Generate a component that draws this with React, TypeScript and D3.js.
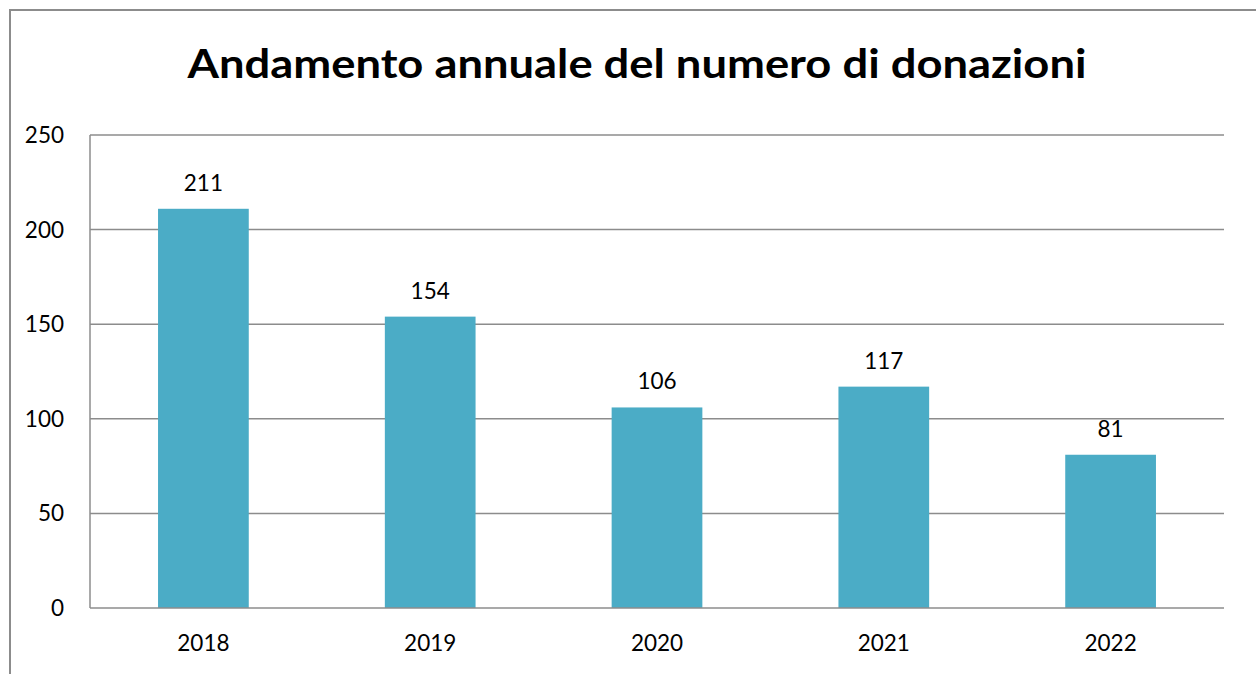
import React from "react";
import * as d3 from "d3";

const years = ["2018", "2019", "2020", "2021", "2022"];
const donations = [211, 154, 106, 117, 81];
const yTicks = [0, 50, 100, 150, 200, 250];
const title = "Andamento annuale del numero di donazioni";

export default function App() {
  const W = 1256, H = 674;
  const left = 90, right = 1224, top = 135, bottom = 608;
  const x = d3.scaleBand<string>().domain(years).range([left, right]).paddingInner(0.6).paddingOuter(0.3);
  const y = d3.scaleLinear().domain([0, 250]).range([bottom, top]);
  const font = "Lato, Carlito, 'Open Sans', sans-serif";
  const fs = 22.5;
  return (
    <svg width={W} height={H} style={{ position: "fixed", left: 0, top: 0, background: "#fff" }} fontFamily={font}>
      <rect x={0} y={0} width={W} height={H} fill="#fff" />
      <path d={`M10,${H + 5} V10 H${W + 5}`} fill="none" stroke="#8c8c8c" strokeWidth={2} />
      <text x={637} y={78} textAnchor="middle" fontWeight="bold" fontSize={41} textLength={899} lengthAdjust="spacingAndGlyphs" fill="#000">{title}</text>
      {yTicks.map((t) => (
        <g key={t}>
          {t > 0 && <line x1={left} x2={right} y1={y(t)} y2={y(t)} stroke="#8c8c8c" strokeWidth={1.5} />}
          <text x={64} y={y(t) + 8} textAnchor="end" fontSize={fs} fill="#000">{t}</text>
        </g>
      ))}
      {years.map((yr, i) => (
        <g key={yr}>
          <rect x={x(yr)} y={y(donations[i])} width={x.bandwidth()} height={bottom - y(donations[i])} fill="#4bacc6" />
          <text x={x(yr)! + x.bandwidth() / 2} y={y(donations[i]) - 18} textAnchor="middle" fontSize={fs} fill="#000">{donations[i]}</text>
          <text x={x(yr)! + x.bandwidth() / 2} y={651} textAnchor="middle" fontSize={fs} fill="#000">{yr}</text>
        </g>
      ))}
      <line x1={left} x2={left} y1={top} y2={bottom} stroke="#8c8c8c" strokeWidth={1.5} />
      <line x1={left} x2={right} y1={bottom} y2={bottom} stroke="#8c8c8c" strokeWidth={1.5} />
    </svg>
  );
}
